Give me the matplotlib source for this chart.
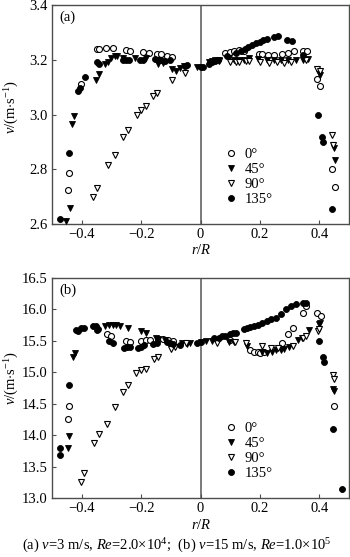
import matplotlib
matplotlib.use("Agg")
import matplotlib.pyplot as plt

plt.rcParams['font.family'] = ['Liberation Serif', 'DejaVu Serif']
plt.rcParams['mathtext.fontset'] = 'custom'
plt.rcParams['mathtext.rm'] = 'Liberation Serif'
plt.rcParams['mathtext.it'] = 'Liberation Serif:italic'
plt.rcParams['mathtext.bf'] = 'Liberation Serif:bold'

# ---------------- data ----------------
x_ticks = [-0.4, -0.2, 0.0, 0.2, 0.4]
x_tick_labels = ["\u22120.4", "\u22120.2", "0", "0.2", "0.4"]
a_y_ticks = [2.6, 2.8, 3.0, 3.2, 3.4]
a_y_tick_labels = ["2.6", "2.8", "3.0", "3.2", "3.4"]
b_y_ticks = [13.0, 13.5, 14.0, 14.5, 15.0, 15.5, 16.0, 16.5]
b_y_tick_labels = ["13.0", "13.5", "14.0", "14.5", "15.0", "15.5", "16.0", "16.5"]
legend_labels = ["0\u00b0", "45\u00b0", "90\u00b0", "135\u00b0"]

# panel (a)
a_0_x = [-0.447, -0.442, -0.402, -0.350, -0.341, -0.318, -0.295, -0.252, -0.236, -0.193, -0.175,
         -0.148, -0.132, -0.113, -0.097, 0.084, 0.098, 0.112, 0.129, 0.146, 0.197, 0.208, 0.226,
         0.247, 0.276, 0.295, 0.315, 0.345, 0.358, 0.392, 0.403, 0.443, 0.452]
a_0_y = [2.724, 2.785, 3.113, 3.238, 3.238, 3.243, 3.243, 3.235, 3.232, 3.228, 3.225,
         3.222, 3.22, 3.215, 3.21, 3.225, 3.228, 3.232, 3.234, 3.232, 3.222, 3.22, 3.218,
         3.216, 3.22, 3.225, 3.232, 3.232, 3.232, 3.13, 3.104, 2.8, 2.735]

a_45_x = [-0.453, -0.439, -0.433, -0.425, -0.351, -0.342, -0.32, -0.312, -0.3, -0.289, -0.28,
          -0.26, -0.22, -0.182, -0.142, -0.125, -0.097, -0.084, -0.07, -0.057, -0.012, 0.027,
          0.039, 0.05, 0.061, 0.095, 0.112, 0.129, 0.146, 0.163, 0.193, 0.225, 0.247, 0.27,
          0.293, 0.321, 0.344, 0.361, 0.4, 0.403, 0.449, 0.453]
a_45_y = [2.61, 2.66, 2.965, 2.994, 3.125, 3.147, 3.186, 3.192, 3.208, 3.213, 3.215,
          3.205, 3.205, 3.208, 3.186, 3.188, 3.168, 3.16, 3.17, 3.177, 3.174, 3.192,
          3.194, 3.198, 3.198, 3.208, 3.2, 3.2, 3.2, 3.208, 3.204, 3.2, 3.2, 3.2,
          3.2, 3.2, 3.2, 3.204, 3.153, 3.143, 2.878, 2.833]

a_90_x = [-0.362, -0.347, -0.312, -0.289, -0.261, -0.244, -0.214, -0.199, -0.182, -0.159, -0.146,
          -0.097, -0.052, 0.062, 0.098, 0.118, 0.129, 0.152, 0.163, 0.202, 0.231, 0.257, 0.281,
          0.306, 0.355, 0.392, 0.403, 0.443, 0.447]
a_90_y = [2.698, 2.73, 2.815, 2.852, 2.916, 2.943, 2.997, 3.016, 3.03, 3.067, 3.077,
          3.125, 3.153, 3.195, 3.19, 3.19, 3.19, 3.194, 3.194, 3.192, 3.188, 3.192, 3.188,
          3.192, 3.2, 3.168, 3.158, 2.925, 2.89]

a_135_x = [-0.472, -0.442, -0.413, -0.407, -0.39, -0.35, -0.341, -0.26, -0.25, -0.24, -0.205,
           -0.194, -0.152, -0.141, -0.132, -0.12, -0.102, -0.052, -0.045, 0.0, 0.008, 0.027,
           0.038, 0.049, 0.06, 0.09, 0.12, 0.135, 0.15, 0.161, 0.172, 0.187, 0.199, 0.212,
           0.225, 0.248, 0.262, 0.292, 0.307, 0.344, 0.394, 0.408, 0.411, 0.443]
a_135_y = [2.617, 2.86, 3.087, 3.095, 3.137, 3.192, 3.186, 3.2, 3.2, 3.2, 3.2,
           3.2, 3.204, 3.198, 3.2, 3.195, 3.198, 3.177, 3.18, 3.174, 3.172, 3.183,
           3.192, 3.194, 3.2, 3.215, 3.226, 3.233, 3.241, 3.246, 3.253, 3.261, 3.265, 3.271,
           3.275, 3.283, 3.286, 3.273, 3.268, 3.216, 3.0, 2.918, 2.9, 2.655]

# panel (b)
b_0_x = [-0.447, -0.442, -0.315, -0.3, -0.25, -0.238, -0.199, -0.182, -0.171, -0.142, -0.125,
         -0.108, -0.094, 0.1, 0.168, 0.18, 0.193, 0.202, 0.214, 0.276, 0.293, 0.313, 0.344,
         0.356, 0.392, 0.406, 0.451]
b_0_y = [14.25, 14.47, 15.61, 15.57, 15.49, 15.48, 15.49, 15.52, 15.52, 15.53, 15.53,
         15.52, 15.5, 15.52, 15.36, 15.33, 15.32, 15.31, 15.32, 15.47, 15.61, 15.71, 15.95,
         16.05, 15.94, 15.9, 14.46]

b_45_x = [-0.447, -0.442, -0.43, -0.422, -0.323, -0.308, -0.295, -0.283, -0.27, -0.244, -0.199,
          -0.182, -0.15, -0.142, -0.12, -0.063, -0.046, -0.035, 0.0, 0.02, 0.04, 0.095, 0.112,
          0.157, 0.208, 0.225, 0.24, 0.253, 0.27, 0.281, 0.298, 0.327, 0.341, 0.366, 0.398,
          0.402, 0.445, 0.451]
b_45_y = [13.8, 13.98, 15.25, 15.31, 15.73, 15.75, 15.75, 15.75, 15.74, 15.7, 15.65,
          15.62, 15.55, 15.53, 15.52, 15.47, 15.45, 15.47, 15.48, 15.49, 15.5, 15.48, 15.48,
          15.42, 15.32, 15.31, 15.33, 15.35, 15.36, 15.37, 15.41, 15.51, 15.55, 15.67, 15.77,
          15.79, 14.73, 14.71]

b_90_x = [-0.404, -0.391, -0.357, -0.342, -0.315, -0.289, -0.261, -0.244, -0.216, -0.199, -0.184,
          -0.157, -0.142, -0.1, -0.086, -0.05, 0.056, 0.115, 0.152, 0.208, 0.237, 0.262, 0.31,
          0.344, 0.355, 0.395, 0.4, 0.445, 0.449]
b_90_y = [13.25, 13.39, 13.88, 14.02, 14.18, 14.45, 14.68, 14.79, 14.99, 15.03, 15.06,
          15.21, 15.24, 15.37, 15.41, 15.46, 15.47, 15.48, 15.46, 15.42, 15.38, 15.38, 15.42,
          15.54, 15.57, 15.65, 15.69, 14.96, 14.89]

b_135_x = [-0.473, -0.473, -0.442, -0.419, -0.413, -0.402, -0.391, -0.363, -0.351, -0.346, -0.35,
           -0.308, -0.295, -0.259, -0.247, -0.238, -0.21, -0.202, -0.191, -0.159, -0.148, -0.114,
           -0.103, -0.092, -0.069, -0.012, 0.0, 0.044, 0.061, 0.073, 0.084, 0.098, 0.11, 0.12,
           0.146, 0.157, 0.168, 0.18, 0.193, 0.208, 0.225, 0.239, 0.253, 0.27, 0.287, 0.304,
           0.321, 0.344, 0.355, 0.398, 0.411, 0.415, 0.445, 0.476]
b_135_y = [13.68, 13.8, 14.79, 15.68, 15.66, 15.7, 15.71, 15.73, 15.74, 15.69, 15.68,
           15.49, 15.47, 15.39, 15.4, 15.41, 15.39, 15.4, 15.43, 15.45, 15.47, 15.48,
           15.47, 15.45, 15.44, 15.47, 15.48, 15.55, 15.55, 15.57, 15.58, 15.61, 15.63, 15.63,
           15.69, 15.7, 15.72, 15.74, 15.76, 15.78, 15.81, 15.84, 15.87, 15.92, 16.0, 16.05,
           16.08, 16.1, 16.11, 15.49, 15.24, 15.17, 14.09, 13.15]

# ---------------- styles ----------------
styles = [
    dict(marker='o', ms=4.3, mfc='white', mec='black', mew=0.8),
    dict(marker='v', ms=5.0, mfc='black', mec='black', mew=0.6),
    dict(marker='v', ms=5.0, mfc='white', mec='black', mew=0.8),
    dict(marker='o', ms=4.3, mfc='black', mec='black', mew=0.6),
]

W, H = 350, 557
fig = plt.figure(figsize=(W / 100, H / 100), dpi=100)
ax1 = fig.add_axes([52 / W, 1 - 224 / H, 297 / W, 219 / H])
ax2 = fig.add_axes([52 / W, 1 - 498 / H, 297 / W, 220 / H])

spine_col = '#4d4d4d'

def setup(ax, series, yticks, ylabels, label):
    ax.axvline(0, color='#707070', lw=1.3, zorder=1)
    handles = []
    for (xs, ys), st, lab in zip(series, styles, legend_labels):
        h, = ax.plot(xs, ys, ls='none', zorder=3, label=lab, **st)
        handles.append(h)
    ax.set_xlim(-0.5, 0.5)
    ax.set_ylim(yticks[0], yticks[-1])
    ax.set_xticks(x_ticks)
    ax.set_xticklabels(x_tick_labels)
    ax.set_yticks(yticks)
    ax.set_yticklabels(ylabels)
    ax.tick_params(direction='in', length=3, width=0.8, colors=spine_col,
                   labelcolor='black', labelsize=10.5, pad=3)
    for s in ax.spines.values():
        s.set_color(spine_col)
        s.set_linewidth(1.0)
    ax.text(0.024, 0.945, label, transform=ax.transAxes, ha='left', va='center',
            fontsize=10.5)
    ax.legend(handles=handles, loc='lower left', bbox_to_anchor=(0.545, 0.035),
              frameon=False, fontsize=10.5, handlelength=1.0, handletextpad=0.4,
              labelspacing=0.12, borderpad=0.2, numpoints=1)
    return ax

setup(ax1, [(a_0_x, a_0_y), (a_45_x, a_45_y), (a_90_x, a_90_y), (a_135_x, a_135_y)],
      a_y_ticks, a_y_tick_labels, '(a)')
setup(ax2, [(b_0_x, b_0_y), (b_45_x, b_45_y), (b_90_x, b_90_y), (b_135_x, b_135_y)],
      b_y_ticks, b_y_tick_labels, '(b)')

ylab = r'$\mathit{v}$/(m$\cdot$s$^{-1}$)'
fig.text(12 / W, 1 - 107 / H, ylab, rotation=90, ha='center', va='center', fontsize=10.5)
fig.text(12 / W, 1 - 378 / H, ylab, rotation=90, ha='center', va='center', fontsize=10.5)

xlab = r'$\mathit{r}$/$\mathit{R}$'
fig.text(201 / W, 1 - 250 / H, xlab, ha='center', va='center', fontsize=10.5)
fig.text(201 / W, 1 - 525 / H, xlab, ha='center', va='center', fontsize=10.5)

caption = (r'(a) $\mathit{v}$=3 m/s, $\mathit{Re}$=2.0$\times$10$^{4}$;  '
           r'(b) $\mathit{v}$=15 m/s, $\mathit{Re}$=1.0$\times$10$^{5}$')
fig.text(177 / W, 1 - 546 / H, caption, ha='center', va='center', fontsize=10.5)

fig.savefig('out.png', dpi=100)
